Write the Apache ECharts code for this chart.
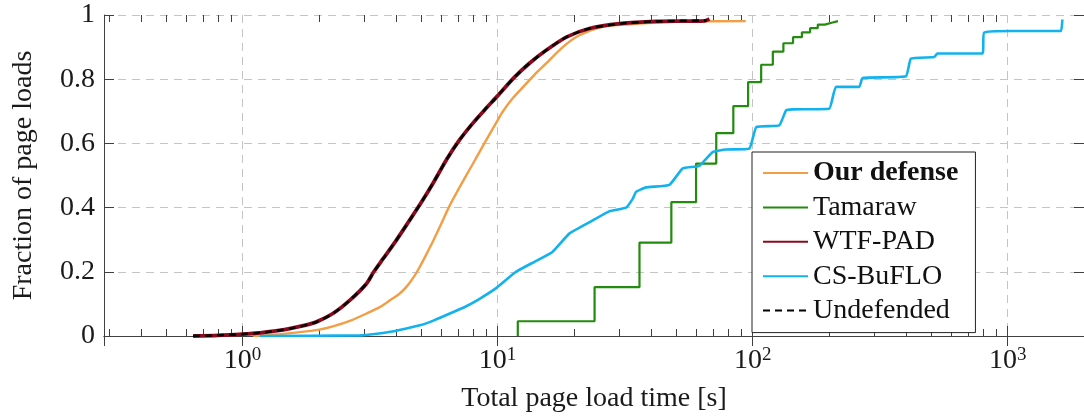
<!DOCTYPE html>
<html>
<head>
<meta charset="utf-8">
<script src="https://cdn.jsdelivr.net/npm/echarts@6/dist/echarts.min.js"></script>
<style>
  html, body { margin: 0; padding: 0; background: #fff; }
  #chart { width: 1084px; height: 419px; }
</style>
</head>
<body>
<div id="chart"></div>
<script>
// CDF of total page load time, one [seconds, fraction] list per defense
const ourDefense = [
  [1.1, 0], [1.4, 0.006], [1.68, 0.012], [2.0, 0.02], [2.26, 0.03], [2.65, 0.048],
  [3.06, 0.07], [3.45, 0.09], [3.78, 0.111], [4.1, 0.13], [4.39, 0.153], [4.7, 0.185],
  [4.95, 0.215], [5.3, 0.26], [5.58, 0.295], [6.0, 0.348], [6.43, 0.4], [7.08, 0.462],
  [7.94, 0.532], [8.87, 0.6], [10.0, 0.672], [10.5, 0.7], [11.5, 0.742],
  [12.6, 0.776], [14, 0.815], [15.5, 0.849], [18, 0.9], [20.9, 0.937], [25.8, 0.963],
  [32.9, 0.971], [45.8, 0.978], [60, 0.98], [94, 0.981]
];
const tamaraw = [
  [12, 0], [12, 0.046], [24, 0.152], [36, 0.291], [48, 0.417], [60, 0.537], [72, 0.632],
  [84, 0.716], [96, 0.791], [108, 0.845], [120, 0.886], [132, 0.912], [144, 0.931],
  [156, 0.946], [168, 0.959], [180, 0.97], [192, 0.976], [204, 0.981], [216, 0.981]
];
const wtfPad = [
  [0.64, 0], [0.8, 0.002], [1.0, 0.006], [1.17, 0.01], [1.35, 0.016], [1.53, 0.023],
  [1.75, 0.033], [1.95, 0.044], [2.26, 0.07], [2.63, 0.111], [3.06, 0.163], [3.27, 0.2],
  [3.55, 0.24], [3.98, 0.295], [4.47, 0.355], [5.01, 0.415], [5.62, 0.48], [6.31, 0.55],
  [7.08, 0.61], [7.94, 0.66], [8.91, 0.705], [10.0, 0.748], [11.5, 0.802], [13.3, 0.849],
  [15.5, 0.89], [18.6, 0.931], [22.9, 0.958], [30.1, 0.973], [41.7, 0.98], [65, 0.982],
  [67.7, 0.988]
];
const csBuflo = [
  [1.17, 0], [2.9, 0.002], [3.3, 0.006], [3.8, 0.013], [4.3, 0.022], [5.0, 0.034],
  [5.6, 0.048], [6.5, 0.07], [7.5, 0.092], [8.5, 0.116], [9.9, 0.15], [11.8, 0.2],
  [14, 0.232], [16.4, 0.262], [19.1, 0.319], [23.6, 0.36], [27.5, 0.389], [31.9, 0.4],
  [33.9, 0.428], [34.9, 0.449], [38.2, 0.463], [47.2, 0.471], [53.2, 0.522], [61.8, 0.53],
  [69.7, 0.573], [78.7, 0.581], [97.1, 0.584], [103.4, 0.651], [127.2, 0.656],
  [135.2, 0.703], [143.4, 0.706], [199.6, 0.708], [212.2, 0.776], [261.8, 0.776],
  [269.8, 0.804], [399, 0.809], [417.4, 0.864], [514.9, 0.869], [530.4, 0.88], [796, 0.88],
  [808, 0.945], [1028, 0.95], [1615, 0.95], [1638, 0.986]
];
const undefended = [
  [0.64, 0], [0.8, 0.002], [1.0, 0.006], [1.17, 0.01], [1.35, 0.016], [1.53, 0.023],
  [1.75, 0.033], [1.95, 0.044], [2.26, 0.07], [2.63, 0.111], [3.06, 0.163], [3.27, 0.2],
  [3.55, 0.24], [3.98, 0.295], [4.47, 0.355], [5.01, 0.415], [5.62, 0.48], [6.31, 0.55],
  [7.08, 0.61], [7.94, 0.66], [8.91, 0.705], [10.0, 0.748], [11.5, 0.802], [13.3, 0.849],
  [15.5, 0.89], [18.6, 0.931], [22.9, 0.958], [30.1, 0.973], [41.7, 0.98], [66, 0.983]
];

const seriesNames = ['Our defense', 'Tamaraw', 'WTF-PAD', 'CS-BuFLO', 'Undefended'];
const yTicks = [0, 0.2, 0.4, 0.6, 0.8, 1];
// minor tick positions on the log axis (2..9 times each power of ten)
const minorTicks = [
  0.3, 0.4, 0.5, 0.6, 0.7, 0.8, 0.9,
  2, 3, 4, 5, 6, 7, 8, 9,
  20, 30, 40, 50, 60, 70, 80, 90,
  200, 300, 400, 500, 600, 700, 800, 900
];

const X_MIN = 0.2862, X_MAX = 1992;
const FONT = '"Liberation Serif", "Times New Roman", serif';
const AXIS_COLOR = '#404040';
const TEXT_COLOR = '#1a1a1a';
const GRID_LINE = { color: '#c4c4c4', width: 1, type: [8, 6] };

const chart = echarts.init(document.getElementById('chart'), null, { renderer: 'canvas' });

function lineSeries(name, data, color, width, dash, z, smooth) {
  return {
    name, type: 'line', data, symbol: 'none', showSymbol: false, z,
    smooth: smooth || false,
    lineStyle: { color, width, type: dash || 'solid' },
    itemStyle: { color },
    emphasis: { disabled: true }
  };
}

const option = {
  animation: false,
  backgroundColor: '#fff',
  grid: { left: 104, top: 15, width: 981, height: 321, containLabel: false },
  xAxis: [
    {
      type: 'log', logBase: 10, min: X_MIN, max: X_MAX, position: 'bottom',
      name: 'Total page load time [s]', nameLocation: 'middle', nameGap: 49,
      nameTextStyle: { fontFamily: FONT, fontSize: 28, color: TEXT_COLOR },
      axisLine: { show: true, lineStyle: { color: AXIS_COLOR, width: 1 } },
      axisTick: { show: true, inside: true, length: 10, lineStyle: { color: AXIS_COLOR } },
      splitLine: { show: true, lineStyle: GRID_LINE },
      minorTick: { show: false },
      axisLabel: {
        margin: 10, showMinLabel: false, showMaxLabel: false,
        formatter: function (v) {
          const e = Math.round(Math.log10(v));
          return '{m|10}{s|' + e + '}';
        },
        rich: {
          m: { fontFamily: FONT, fontSize: 28, lineHeight: 30, color: TEXT_COLOR },
          s: { fontFamily: FONT, fontSize: 19, lineHeight: 19, verticalAlign: 'top', color: TEXT_COLOR }
        }
      }
    },
    {
      type: 'log', logBase: 10, min: X_MIN, max: X_MAX, position: 'top',
      axisLine: { show: true, lineStyle: { color: AXIS_COLOR, width: 1 } },
      axisTick: { show: true, inside: true, length: 10, lineStyle: { color: AXIS_COLOR } },
      axisLabel: { show: false }, splitLine: { show: false }
    }
  ],
  yAxis: [
    {
      type: 'value', min: 0, max: 1, interval: 0.2, position: 'left',
      name: 'Fraction of page loads', nameLocation: 'middle', nameGap: 66,
      nameTextStyle: { fontFamily: FONT, fontSize: 28, color: TEXT_COLOR },
      axisLine: { show: true, lineStyle: { color: AXIS_COLOR, width: 1 } },
      axisTick: { show: true, inside: true, length: 10, lineStyle: { color: AXIS_COLOR } },
      splitLine: { show: true, lineStyle: GRID_LINE },
      axisLabel: {
        margin: 9, fontFamily: FONT, fontSize: 28, color: TEXT_COLOR,
        formatter: function (v) {
          const t = yTicks.find(function (k) { return Math.abs(k - v) < 1e-9; });
          return t === undefined ? '' : String(t);
        }
      }
    },
    {
      type: 'value', min: 0, max: 1, interval: 0.2, position: 'right',
      axisLine: { show: true, lineStyle: { color: AXIS_COLOR, width: 1 } },
      axisTick: { show: true, inside: true, length: 10, lineStyle: { color: AXIS_COLOR } },
      axisLabel: { show: false }, splitLine: { show: false }
    }
  ],
  legend: {
    data: seriesNames,
    orient: 'vertical', left: 752, top: 152,
    backgroundColor: '#fff', borderColor: '#222', borderWidth: 1, borderRadius: 0,
    padding: [7, 17, 8, 10],
    itemWidth: 45, itemHeight: 14, itemGap: 6.4,
    selectedMode: false,
    // legend keys are plain line samples, no marker
    itemStyle: { opacity: 0, borderWidth: 0 },
    textStyle: {
      fontFamily: FONT, fontSize: 28, lineHeight: 28, color: '#111',
      rich: { b: { fontFamily: FONT, fontSize: 28, lineHeight: 28, fontWeight: 'bold', color: '#111' } }
    },
    formatter: function (name) { return name === 'Our defense' ? '{b|' + name + '}' : name; }
  },
  series: [
    {
      name: 'minor ticks', type: 'custom', silent: true, z: 1,
      data: minorTicks.map(function (v) { return [v, 0]; }),
      encode: { x: 0, y: 1 },
      renderItem: function (params, api) {
        const v = api.value(0);
        const b = api.coord([v, 0]);
        const t = api.coord([v, 1]);
        const x = Math.round(b[0]) + 0.5;
        const st = { stroke: AXIS_COLOR, lineWidth: 1 };
        return {
          type: 'group',
          children: [
            { type: 'line', shape: { x1: x, y1: b[1], x2: x, y2: b[1] - 7 }, style: st },
            { type: 'line', shape: { x1: x, y1: t[1], x2: x, y2: t[1] + 7 }, style: st }
          ]
        };
      }
    },
    lineSeries('Our defense', ourDefense, '#F39E45', 2.4, null, 3, 0.25),
    Object.assign(lineSeries('Tamaraw', tamaraw, '#238B0E', 2.2, null, 3), { step: 'end' }),
    lineSeries('WTF-PAD', wtfPad, '#8A0B1F', 3.8, null, 4, 0.25),
    lineSeries('CS-BuFLO', csBuflo, '#12B2EE', 2.6, null, 3, 0.12),
    lineSeries('Undefended', undefended, '#000000', 2.5, [7, 5], 5, 0.25)
  ]
};

chart.setOption(option);
</script>
</body>
</html>
